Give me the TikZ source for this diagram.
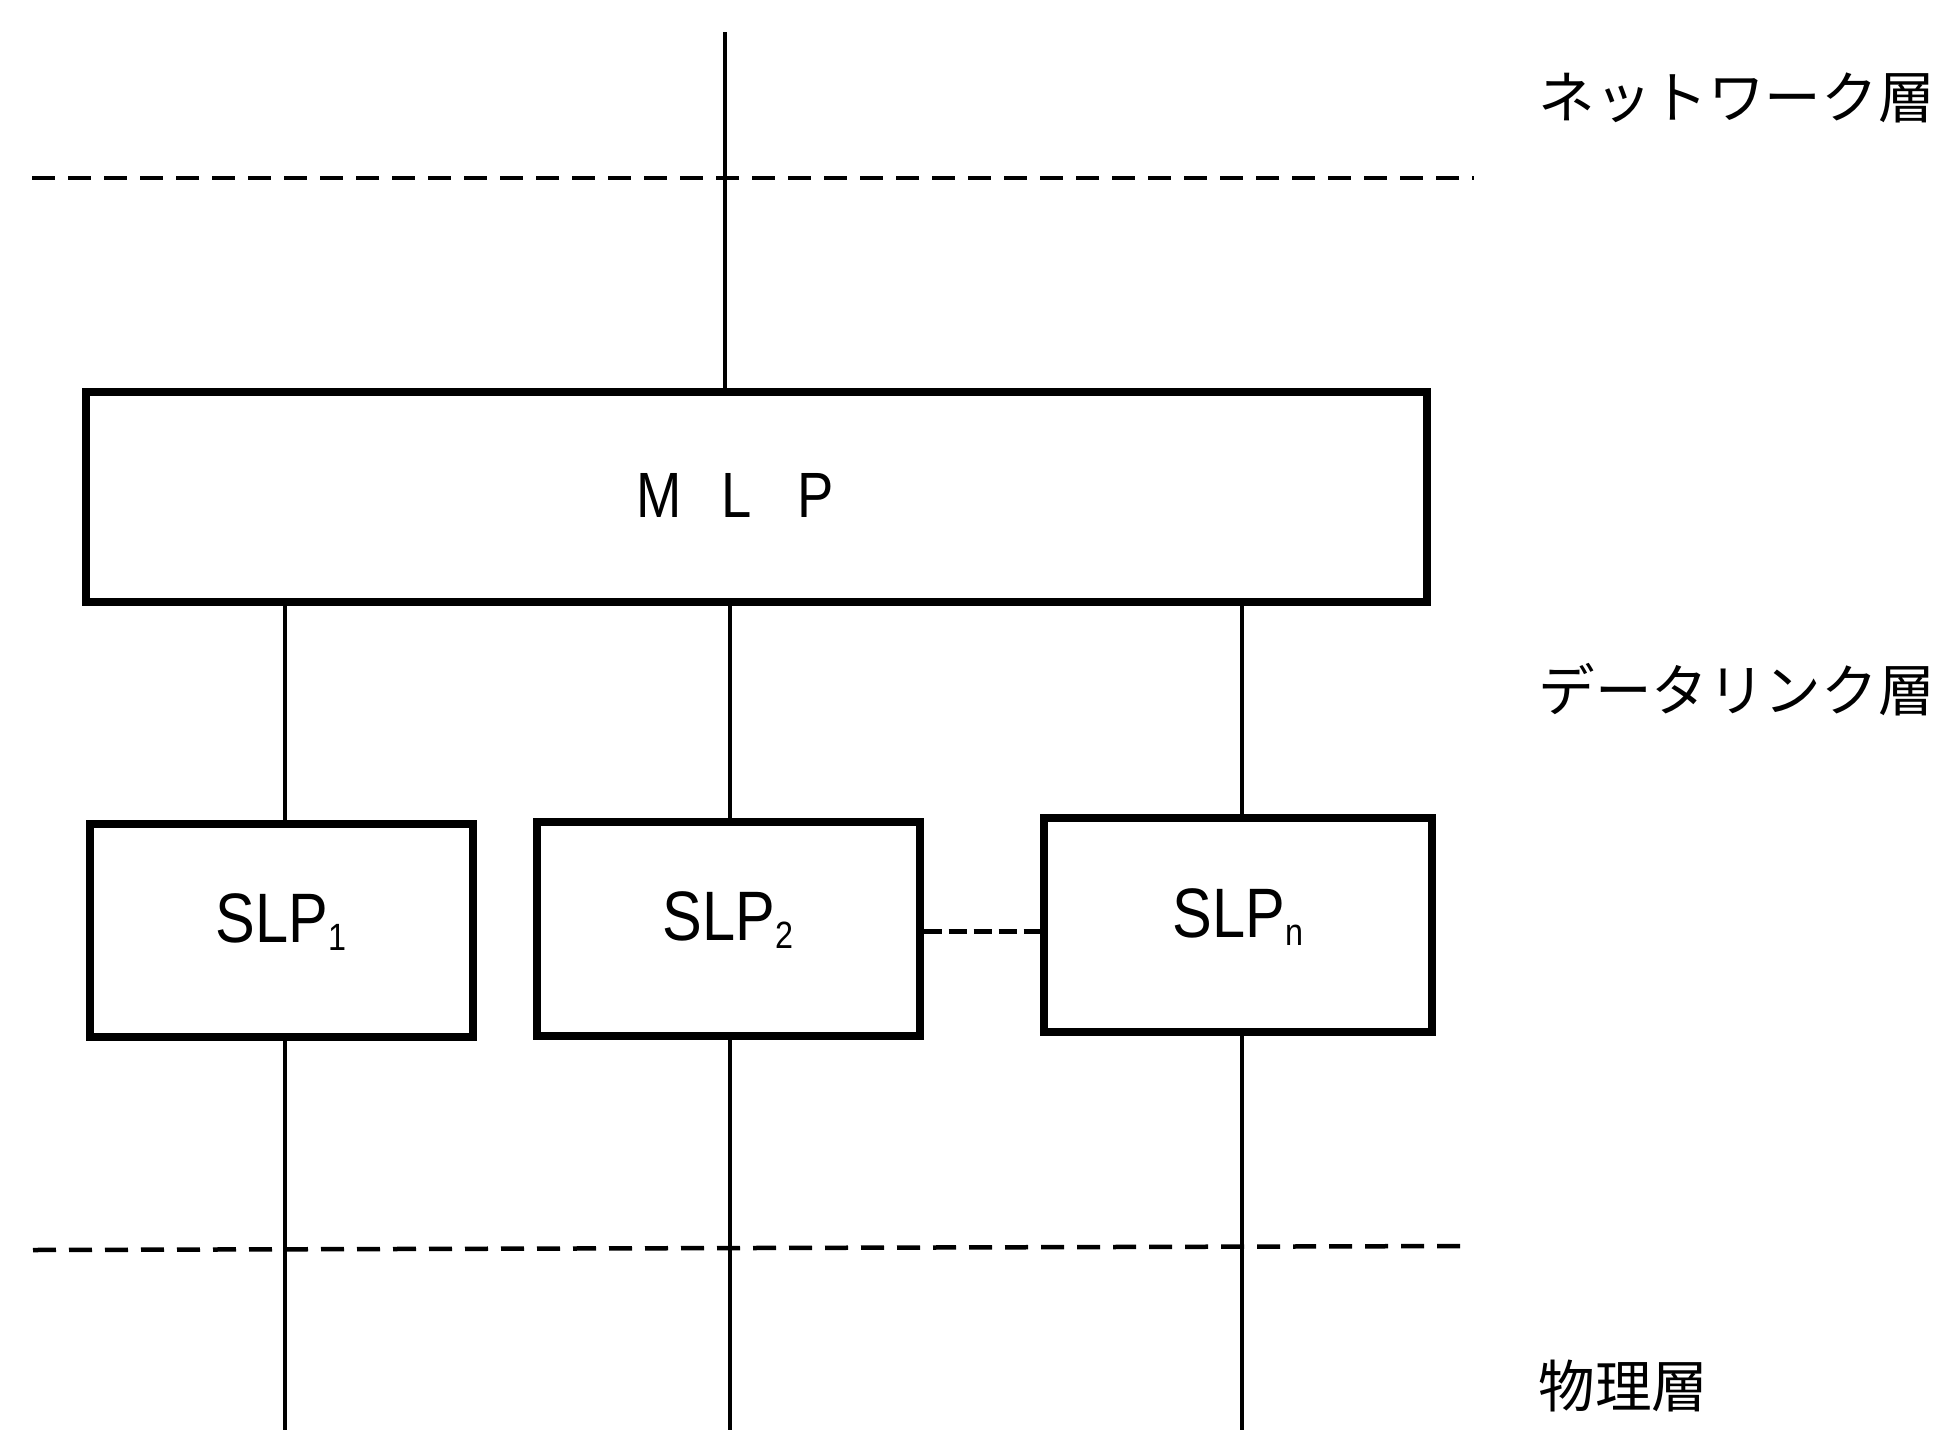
\documentclass[tikz,border=0pt]{standalone}
\usepackage{fontspec}
\newfontfamily\jp{Noto Sans CJK JP}
\newfontfamily\lat{Liberation Sans}[FakeStretch=0.85]
\newcommand\slpsub[1]{\raisebox{-4pt}{\fontsize{19pt}{20pt}\selectfont #1}}
\begin{document}
\begin{tikzpicture}[x=0.5pt,y=-0.5pt,
  box/.style={draw, line width=4pt, inner sep=0pt, rectangle},
  link/.style={line width=2.2pt},
  layerline/.style={line width=2.25pt, dash pattern=on 11.5pt off 6.5pt},
  chain/.style={line width=2.5pt, dash pattern=on 9pt off 3.5pt},
  layer/.style={font=\jp\fontsize{28.3pt}{29pt}\selectfont, anchor=west, inner sep=0pt},
  slptext/.style={font=\lat\fontsize{35pt}{36pt}\selectfont, text depth=12pt}
]
\useasboundingbox (0,0) rectangle (1945,1430);
\fill[white] (0,0) rectangle (1945,1430);

% boxes
\node[box, minimum width=670.5pt, minimum height=105pt] (mlp) at (756.5,497) {};
\node[inner sep=0pt, font=\lat\fontsize{32pt}{33pt}\selectfont] (mlpt) at (735,495) {M\hspace{20pt}L\hspace{23pt}P};
\node[box, slptext, minimum width=191.5pt, minimum height=106.5pt] (slp1) at (281,930.5) {SLP\slpsub{1}};
\node[box, slptext, minimum width=191.5pt, minimum height=107pt] (slp2) at (728,928.5) {SLP\slpsub{2}};
\node[box, slptext, minimum width=194pt, minimum height=107.25pt] (slpn) at (1238,925) {SLP\slpsub{n}};

% layer labels
\node[layer] (net) at (1538,98) {ネットワーク層};
\node[layer] (dl) at (1538,690) {データリンク層};
\node[layer] (phy) at (1538,1386) {物理層};

% vertical connectors
\coordinate (top) at (725,32);
\coordinate (c1) at (285,1430);
\coordinate (c2) at (730,1430);
\coordinate (cn) at (1242,1430);
\draw[link] (top) -- (top |- mlp.north);
\draw[link] (c1 |- mlp.south) -- (c1 |- slp1.north);
\draw[link] (c2 |- mlp.south) -- (c2 |- slp2.north);
\draw[link] (cn |- mlp.south) -- (cn |- slpn.north);
\draw[link] (c1 |- slp1.south) -- (c1);
\draw[link] (c2 |- slp2.south) -- (c2);
\draw[link] (cn |- slpn.south) -- (cn);

% chain between SLP2 and SLPn
\coordinate (cy) at (0,931);
\draw[chain] (slp2.east |- cy) -- (slpn.west |- cy);

% layer boundaries
\coordinate (n1) at (32,178);
\coordinate (n2) at (1474,178);
\coordinate (p1) at (33,1250);
\coordinate (p2) at (1470,1246);
\draw[layerline] (n1) -- (n2);
\draw[layerline] (p1) -- (p2);
\end{tikzpicture}
\end{document}
